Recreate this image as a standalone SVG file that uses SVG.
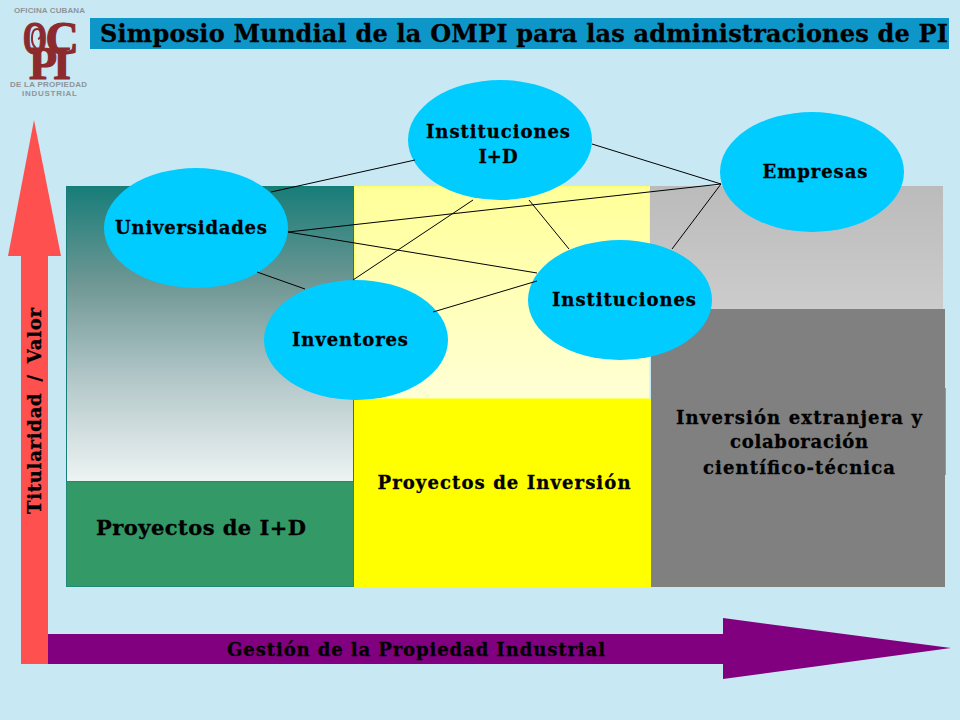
<svg xmlns="http://www.w3.org/2000/svg" width="960" height="720" viewBox="0 0 960 720">
<style>
text{font-family:"DejaVu Serif","Liberation Serif",serif;font-weight:bold;fill:#000;stroke:#000;stroke-width:.3px;text-anchor:middle}
.lab{font-size:18px}
.node{fill:#00ccff}
.con line{stroke:#000;stroke-width:1}
.logo{font-family:"Liberation Serif",serif;fill:#8c2a2e;stroke:#8c2a2e;stroke-width:1.2px}
.logos{font-family:"Liberation Sans",sans-serif;fill:#8f9499;stroke:none;font-size:8px}
</style>
<defs>
<linearGradient id="g1" x1="0" y1="0" x2="0" y2="1"><stop offset="0" stop-color="#177d78"/><stop offset=".33" stop-color="#6f9794"/><stop offset=".66" stop-color="#b4c8ca"/><stop offset="1" stop-color="#eef3f3"/></linearGradient>
<linearGradient id="g2" x1="0" y1="0" x2="0" y2="1"><stop offset="0" stop-color="#ffff99"/><stop offset="1" stop-color="#ffffd6"/></linearGradient>
<linearGradient id="g3" x1="0" y1="0" x2="0" y2="1"><stop offset="0" stop-color="#bbbbbb"/><stop offset="1" stop-color="#cccccc"/></linearGradient>
</defs>
<rect width="960" height="720" fill="#c8e9f3"/>
<g id="logo">
<text class="logos" x="49.500" y="13" textLength="71">OFICINA CUBANA</text>
<text class="logo" transform="translate(35,54) scale(.68,1)" font-size="46">O</text>
<path d="M36 48C30 44 31 29 37 29C42 29 42 38 38 39" fill="none" stroke="#8c2a2e" stroke-width="2"/>
<text class="logo" x="62" y="54" font-size="46">C</text>
<text class="logo" x="43" y="79" font-size="46">P</text>
<text class="logo" x="62" y="79" font-size="46">I</text>
<text class="logos" x="48.500" y="87" textLength="77">DE LA PROPIEDAD</text>
<text class="logos" x="49.500" y="96" textLength="55">INDUSTRIAL</text>
</g>
<g id="title"><rect x="90" y="18" width="859" height="31" fill="#0e96c8"/>
<text x="524" y="42" font-size="24" textLength="848" lengthAdjust="spacing">Simposio Mundial de la OMPI para las administraciones de PI</text></g>
<g id="panel-id"><rect x="66.500" y="186.500" width="287" height="295" fill="url(#g1)" stroke="#177d78"/><rect x="66.500" y="481.500" width="287" height="105" fill="#339966" stroke="#1f8a78"/>
<text x="201" y="535" font-size="21" textLength="210">Proyectos de I+D</text></g>
<g id="panel-inv"><rect x="354.500" y="186.500" width="295" height="212" fill="url(#g2)" stroke="#ffff66"/><rect x="354" y="399" width="297" height="188" fill="#ffff00"/>
<text class="lab" x="504" y="489" textLength="253">Proyectos de Inversión</text></g>
<g id="panel-ext"><rect x="650" y="186" width="293" height="124" fill="url(#g3)"/><rect x="651" y="309" width="294" height="278" fill="#808080"/><rect x="945" y="388" width="1" height="87" fill="#8a9ca3"/>
<text class="lab" x="799" y="424" textLength="246">Inversión extranjera y</text>
<text class="lab" x="799" y="448" textLength="138">colaboración</text>
<text class="lab" x="799" y="474" textLength="192">científico-técnica</text></g>
<g id="axis-y"><polygon points="34,120 61,256 48,256 48,664 21,664 21,256 8,256" fill="#ff5050"/>
<text class="lab" transform="translate(41,411) rotate(-90)" textLength="206" style="word-spacing:4px">Titularidad / Valor</text></g>
<g id="axis-x"><polygon points="48,634 723,634 723,618 951,648 723,679 723,664 48,664" fill="#800080"/>
<text class="lab" x="416" y="656" textLength="378">Gestión de la Propiedad Industrial</text></g>
<g id="universidades"><ellipse class="node" cx="196" cy="228" rx="92" ry="60"/><text class="lab" x="191" y="234" textLength="152">Universidades</text></g>
<g id="instituciones-id"><ellipse class="node" cx="500" cy="140" rx="92" ry="60"/><text class="lab" x="498" y="138" textLength="144">Instituciones</text><text class="lab" x="498" y="163">I+D</text></g>
<g id="empresas"><ellipse class="node" cx="812" cy="172" rx="92" ry="60"/><text class="lab" x="815" y="178" textLength="105">Empresas</text></g>
<g id="instituciones"><ellipse class="node" cx="620" cy="300" rx="92" ry="60"/><text class="lab" x="624" y="306" textLength="144">Instituciones</text></g>
<g id="inventores"><ellipse class="node" cx="356" cy="340" rx="92" ry="60"/><text class="lab" x="350" y="346" textLength="116">Inventores</text></g>
<g id="connectors" class="con">
<line x1="271" y1="192" x2="415" y2="160"/>
<line x1="592" y1="144" x2="721" y2="184"/>
<line x1="288" y1="232" x2="721" y2="184"/>
<line x1="288" y1="232" x2="537" y2="273"/>
<line x1="257" y1="272" x2="305" y2="289"/>
<line x1="353" y1="280" x2="473" y2="200"/>
<line x1="529" y1="200" x2="569" y2="249"/>
<line x1="672" y1="249" x2="721" y2="184"/>
<line x1="433" y1="312" x2="537" y2="281"/>
</g>
</svg>
